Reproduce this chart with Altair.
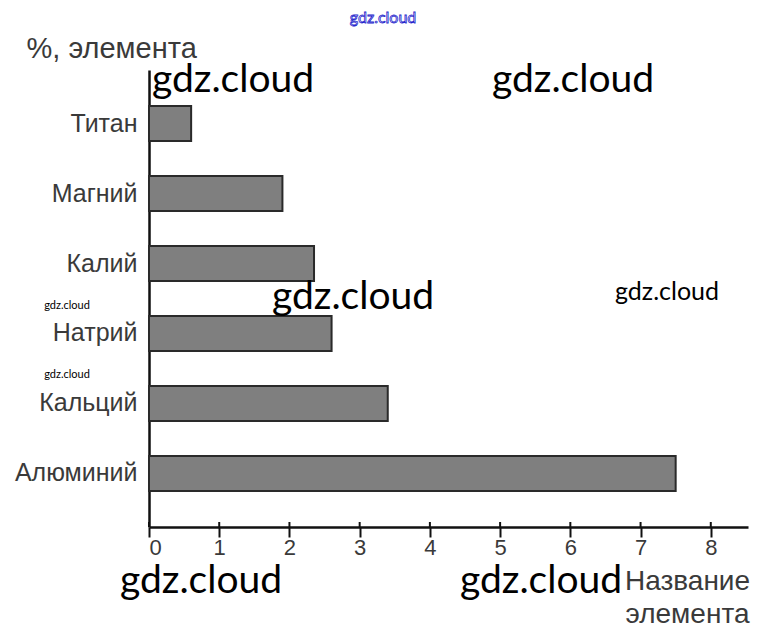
import altair as alt
import pandas as pd

elements = ["Титан", "Магний", "Калий", "Натрий", "Кальций", "Алюминий"]
percents = [0.6, 1.9, 2.35, 2.6, 3.4, 7.5]
x_ticks = [0, 1, 2, 3, 4, 5, 6, 7, 8]

wm_text = ["gdz.cloud"] * 9
wm_x = [84, 424, 204, 52, 392, 518, -82, -82, 234]
wm_y = [10, 10, 227, 511, 511, 222, 236, 305, -52]
wm_size = [39, 39, 39, 39, 39, 25, 11, 11, 16]

W, H = 599, 457
df = pd.DataFrame({"element": elements, "pct": percents})
ticks_df = pd.DataFrame({"t": x_ticks})

x_scale = alt.Scale(domain=[0, 8.53], nice=False, zero=True)
y_scale = alt.Scale(domain=elements, paddingInner=0.5, paddingOuter=0.515)

FONT = "Liberation Sans"
TXT = "#3a3a3a"

bars = alt.Chart(df).mark_bar(color="#7f7f7f", stroke="#2a2a2a", strokeWidth=2).encode(
    x=alt.X("pct:Q", scale=x_scale, axis=alt.Axis(
        values=x_ticks, format="d", grid=False, domainColor="#111", domainWidth=2.5,
        tickColor="#111", tickWidth=2, tickSize=10, labelPadding=0,
        labelFont=FONT, labelFontSize=22, labelColor=TXT,
        title=["Название", "элемента"], titleFont=FONT, titleFontSize=28,
        titleFontWeight="normal", titleColor=TXT, titleX=538, titleY=40,
        titleAlign="center", titleBaseline="top", titleLineHeight=33, titleAngle=0,
    )),
    y=alt.Y("element:N", scale=y_scale, sort=elements, axis=alt.Axis(
        ticks=False, grid=False, domainColor="#111", domainWidth=2.5,
        labelPadding=12, labelFont=FONT, labelFontSize=25, labelColor=TXT,
        title="%, элемента", titleFont=FONT, titleFontSize=29,
        titleFontWeight="normal", titleColor=TXT, titleAngle=0,
        titleX=-123, titleY=-22, titleAlign="left", titleBaseline="middle",
    )),
)

up_ticks = alt.Chart(ticks_df).mark_rule(color="#111", strokeWidth=2).encode(
    x=alt.X("t:Q", scale=x_scale),
    y=alt.value(H - 5), y2=alt.value(H),
)

wm_df = pd.DataFrame({"text": wm_text, "x": wm_x, "y": wm_y, "size": wm_size})
layers = [bars, up_ticks]
for i in range(len(wm_text)):
    if i == len(wm_text) - 1:
        m = alt.Chart(wm_df.iloc[[i]]).mark_text(
            font="Lato", fontSize=wm_size[i], fill="white", stroke="#2222cc",
            strokeWidth=0.8, align="center", baseline="middle")
    else:
        m = alt.Chart(wm_df.iloc[[i]]).mark_text(
            font="Lato", fontSize=wm_size[i], color="black", align="center",
            baseline="middle")
    layers.append(m.encode(text="text:N", x=alt.value(wm_x[i]), y=alt.value(wm_y[i])))

chart = alt.layer(*layers).properties(
    width=W, height=H,
    autosize=alt.AutoSizeParams(type="none"),
    padding={"left": 141, "top": 62, "right": 10, "bottom": 106},
).configure_view(stroke=None)

chart.save("out.html", embed_options={"renderer": "svg", "actions": False})
